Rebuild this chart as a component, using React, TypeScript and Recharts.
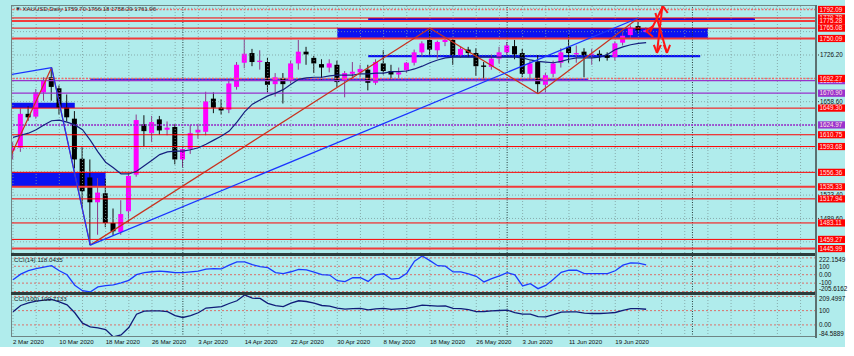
import React from 'react';
import { ComposedChart, Bar, Line, XAxis, YAxis, ReferenceLine, ReferenceArea } from 'recharts';

// daily XAUUSD candles, 2 Mar 2020 .. 25 Jun 2020 (index = bar number)
const opens = [
  1588, 1592, 1641, 1637, 1672, 1694, 1678, 1650, 1634, 1576,
  1549, 1513, 1526, 1483, 1470, 1500, 1553, 1626, 1613, 1633,
  1618, 1622, 1575, 1590, 1614, 1615, 1663, 1650, 1647, 1680,
  1715, 1729, 1716, 1716, 1684, 1693, 1690, 1714, 1731, 1722,
  1713, 1708, 1712, 1690, 1699, 1701, 1705, 1686, 1714, 1703,
  1698, 1704, 1715, 1730, 1748, 1733, 1745, 1748, 1726, 1734,
  1729, 1711, 1709, 1721, 1730, 1739, 1729, 1699, 1716, 1683,
  1699, 1715, 1738, 1727, 1731, 1726, 1728, 1726, 1723, 1744,
  1755, 1768, 1759.7,
];
const highs = [
  1600, 1649, 1652, 1677, 1694, 1708, 1682, 1669, 1645, 1594,
  1575, 1548, 1547, 1504, 1516, 1555, 1640, 1639, 1638, 1638,
  1630, 1626, 1592, 1625, 1626, 1673, 1672, 1662, 1690, 1716,
  1750, 1735, 1733, 1722, 1700, 1700, 1718, 1748, 1738, 1725,
  1720, 1720, 1718, 1703, 1716, 1712, 1712, 1720, 1733, 1712,
  1708, 1716, 1734, 1746, 1765, 1747, 1752, 1750, 1738, 1738,
  1736, 1716, 1727, 1738, 1745, 1748, 1735, 1718, 1726, 1700,
  1718, 1736, 1755, 1740, 1736, 1735, 1733, 1730, 1746, 1760,
  1769, 1779.78, 1766.18,
];
const lows = [
  1575, 1586, 1631, 1634, 1660, 1660, 1640, 1630, 1562, 1505,
  1451, 1466, 1477, 1465, 1466, 1483, 1550, 1593, 1600, 1611,
  1610, 1568, 1564, 1583, 1605, 1610, 1642, 1640, 1642, 1676,
  1707, 1710, 1705, 1672, 1666, 1656, 1685, 1705, 1712, 1700,
  1690, 1701, 1680, 1665, 1692, 1694, 1675, 1683, 1698, 1691,
  1692, 1700, 1711, 1724, 1726, 1721, 1739, 1712, 1722, 1723,
  1696, 1692, 1705, 1714, 1726, 1720, 1694, 1691, 1670, 1672,
  1694, 1708, 1715, 1715, 1694, 1712, 1717, 1718, 1718, 1740,
  1751, 1757, 1758.29,
];
const closes = [
  1592, 1641, 1636, 1672, 1690, 1680, 1650, 1636, 1575, 1529,
  1513, 1527, 1483, 1471, 1496, 1551, 1632, 1616, 1629, 1617,
  1621, 1575, 1590, 1613, 1618, 1659, 1650, 1646, 1685, 1712,
  1728, 1716, 1718, 1683, 1694, 1684, 1714, 1731, 1727, 1714,
  1708, 1714, 1687, 1700, 1702, 1706, 1686, 1716, 1703, 1698,
  1701, 1715, 1730, 1743, 1734, 1745, 1748, 1726, 1735, 1729,
  1710, 1709, 1721, 1730, 1740, 1727, 1699, 1714, 1684, 1697,
  1714, 1730, 1729, 1729, 1726, 1728, 1726, 1722, 1743, 1754,
  1766, 1762, 1761.96,
];
const maValues = [
  1607, 1610, 1613, 1618, 1625, 1631, 1632, 1629, 1625, 1618,
  1603, 1586, 1571, 1563, 1554, 1554, 1558, 1566, 1574, 1582,
  1586, 1587, 1587, 1589, 1592, 1597, 1603, 1609, 1616, 1629,
  1644, 1655, 1661, 1667, 1671, 1676, 1684, 1691, 1693, 1694,
  1694, 1696, 1697, 1697, 1697, 1699, 1699, 1700, 1700, 1702,
  1702, 1703, 1706, 1710, 1715, 1719, 1722, 1723, 1723, 1723,
  1723, 1723, 1723, 1723, 1723, 1723, 1722, 1719, 1717, 1716,
  1715, 1717, 1720, 1722, 1722, 1722, 1723, 1727, 1734, 1738,
  1741, 1743, 1744,
];
const cci14 = [
  -59, 7, 47, 71, 89, 107, 47, -1, -125, -190,
  -205.6162, -146, -130, -120, -98, -67, 1, 24, 35, 42,
  35, 25, 25, 34, 43, 67, 72, 69, 113, 152,
  153, 119, 96, 83, 25, 13, 35, 63, 58, 31,
  0, -4, -71, -83, -36, -35, -80, -1, 11, -53,
  -43, 18, 161, 222.1549, 167, 107, 101, 33, 33, 11,
  -19, -86, -46, -13, 25, -1, -134, -107, -166, -128,
  -55, 29, 55, 53, 13, 13, 13, 13, 47, 113,
  141, 137, 118.0435,
];
const cci100 = [
  92, 136, 155, 167, 174, 178, 161, 141, 85, 12,
  -14, -21, -32, -84.5889, -70, -18, 75, 97, 99, 99,
  93, 65, 52, 65, 85, 118, 123, 128, 150, 169,
  209.4997, 187, 186, 151, 135, 128, 152, 169, 164, 152,
  136, 132, 118, 111, 114, 116, 106, 113, 116, 109,
  112, 116, 127, 139, 135, 132, 134, 116, 114, 107,
  93, 94, 99, 101, 104, 86, 75, 75, 58, 56,
  72, 90, 92, 92, 83, 80, 80, 83, 87, 102,
  114, 114, 109.7133,
];

const dateLabels = [
  '2 Mar 2020', '10 Mar 2020', '18 Mar 2020', '26 Mar 2020', '3 Apr 2020', '14 Apr 2020', '22 Apr 2020',
  '30 Apr 2020', '8 May 2020', '18 May 2020', '26 May 2020', '3 Jun 2020', '11 Jun 2020', '19 Jun 2020',
];
const dateTickIdx = [0, 6, 12, 18, 24, 30, 36, 42, 48, 54, 60, 66, 72, 78];

// horizontal levels drawn on the price panel
const redLevels = [1792.09, 1779.78, 1775.28, 1765.08, 1750.09, 1692.27, 1649.3, 1610.75, 1593.68, 1556.36, 1535.33, 1517.94, 1483.11, 1459.27, 1445.99];
const purpleLevels = [1689.02, 1670.9, 1624.97];
const gridLabelLevels = [1726.2, 1658.6, 1523.4, 1489.6];
const gridLevels = [1793.8, 1760.0, 1726.2, 1692.4, 1658.6, 1624.8, 1591.0, 1557.2, 1523.4, 1489.6, 1455.8];

// zigzag pivots (bar index, price)
const redZigIdx = [-1, 5, 10, 54, 68, 81];
const redZigPrice = [1563, 1708, 1451, 1765, 1670, 1779.78];
const blueZigIdx = [-5, 5, 10, 81];
const blueZigPrice = [1689, 1708, 1451, 1779.78];

// supply / demand boxes: [fromBar, toBar, lowPrice, highPrice]
const zones = [
  [46, 96.1, 1775.28, 1779.78],
  [42, 90, 1750.09, 1765.08],
  [46, 89, 1723.0, 1726.2],
  [10, 74.5, 1689.02, 1692.27],
  [-0.13, 8, 1649.3, 1657.2],
  [-0.13, 12, 1535.33, 1556.36],
];

// hand drawn red arrows near the last bar
const arrowSegs = [
  [82.5, 1759.5, 84.2, 1796.5],
  [83.2, 1787, 84.7, 1729.1],
  [84.1, 1796.5, 83.4, 1729.1],
  [83.4, 1729.1, 83.0, 1740.7],
  [83.4, 1729.1, 83.9, 1740.7],
  [84.7, 1729.1, 84.3, 1740.7],
  [84.7, 1729.1, 85.1, 1740.7],
  [84.2, 1796.5, 83.7, 1786],
  [84.2, 1796.5, 84.8, 1787],
  [82.0, 1760.9, 82.9, 1768.2],
  [82.0, 1760.9, 82.9, 1752.3],
];

const cci14Levels = [200, 100, 0, -100, -200];
const cci14Ticks = [222.1549, 100, 0, -100, -205.6162];
const cci100Levels = [200, 100, 0];
const cci100Ticks = [209.4997, 100, 0, -84.5889];

const bars = opens.map((o, i) => ({
  i, o, h: highs[i], l: lows[i], c: closes[i],
  ma: maValues[i], cci14: cci14[i], cci100: cci100[i],
}));

const W = 854;
const LEFT = 12;
const AXIS_W = 38;
const X_DOMAIN: [number, number] = [-0.13, 104];
const FONT = '"Liberation Sans", Arial, sans-serif';
const BG = '#b0ecec';
const vGrid = Array.from({ length: 35 }, (_, k) => k * 3);
const vDark = [22, 64, 88];

const thickLevels = [1775.28, 1750.09, 1535.33, 1445.99];
const dottedLevels = [1792.09, 1692.27];

const Candle = (props: any) => {
  const { x, y, width, height, payload } = props;
  if (!payload || height == null || isNaN(y)) return null;
  const cx = x + width / 2;
  const top = Math.min(y, y + height);
  const h = Math.abs(height);
  const range = payload.h - payload.l || 1;
  const py = (v: number) => top + ((payload.h - v) / range) * h;
  const bull = payload.c >= payload.o;
  const yo = py(payload.o);
  const yc = py(payload.c);
  return (
    <g>
      <line x1={cx} x2={cx} y1={top} y2={top + h} stroke={bull ? '#8a3a8a' : '#111'} strokeWidth={1} />
      <rect x={cx - 2.5} y={Math.min(yo, yc)} width={5} height={Math.max(1, Math.abs(yc - yo))} fill={bull ? '#ff00ff' : '#000'} />
    </g>
  );
};

const PriceTick = (props: any) => {
  const { x, y, payload } = props;
  const v = payload.value;
  const txt = v.toFixed(2);
  if (redLevels.includes(v) || purpleLevels.includes(v)) {
    const fill = redLevels.includes(v) ? '#ff0000' : '#9a32cd';
    return (
      <g>
        <rect x={x + 2} y={y - 3.6} width={27} height={7.2} fill={fill} />
        <text x={x + 3.5} y={y + 2.3} fontSize={6.3} fontFamily={FONT} fill="#ffe4e4">{txt}</text>
      </g>
    );
  }
  return (
    <g>
      <line x1={x} x2={x + 3} y1={y} y2={y} stroke="#333" strokeDasharray="1 1" />
      <text x={x + 4} y={y + 2.3} fontSize={6.3} fontFamily={FONT} fill="#111">{txt}</text>
    </g>
  );
};

// max / min labels sit just inside the panel edges, as in the terminal
const makeCciTick = (labels: Record<string, string>, maxV: number, minV: number) => (props: any) => {
  const { x, y, payload } = props;
  const v = payload.value;
  const txt = labels[String(v)] ?? String(v);
  const dy = v === maxV ? 3.2 : v === minV ? -3.2 : 0;
  return (
    <g>
      <text x={x + 3} y={y + 2.3 + dy} fontSize={6.3} fontFamily={FONT} fill="#111">{txt}</text>
    </g>
  );
};

const DateTick = (props: any) => {
  const { x, y, payload } = props;
  const k = dateTickIdx.indexOf(payload.value);
  return (
    <text x={x} y={y + 6.5} fontSize={6.1} fontFamily={FONT} fill="#111">{dateLabels[k]}</text>
  );
};

const verticalGrid = (prefix: string) => [
  ...vGrid.map((v) => (
    <ReferenceLine key={`${prefix}g${v}`} x={v} stroke="#7e9c9c" strokeDasharray="1 2" strokeWidth={0.8} />
  )),
  ...vDark.map((v) => (
    <ReferenceLine key={`${prefix}d${v}`} x={v} stroke="#1a2a2a" strokeDasharray="1 1.5" strokeWidth={0.9} />
  )),
];

const zigSegs = (idx: number[], price: number[], color: string, key: string) =>
  idx.slice(1).map((v, k) => (
    <ReferenceLine
      key={`${key}${k}`}
      segment={[{ x: idx[k], y: price[k] }, { x: v, y: price[k + 1] }]}
      stroke={color}
      strokeWidth={1.2}
      ifOverflow="hidden"
    />
  ));

export default function App() {
  const cci14Tick = makeCciTick(
    { '222.1549': '222.1549', '100': '100', '0': '0.00', '-100': '-100', '-205.6162': '-205.6162' },
    222.1549,
    -205.6162,
  );
  const cci100Tick = makeCciTick(
    { '209.4997': '209.4997', '100': '100', '0': '0.00', '-84.5889': '-84.5889' },
    209.4997,
    -84.5889,
  );

  return (
    <div style={{ position: 'absolute', left: 0, top: 0, width: W, height: 356, background: '#fff', overflow: 'hidden', fontFamily: FONT }}>
      <div style={{ position: 'absolute', left: 0, top: 0, width: 845, height: 347, background: BG }} />

      {/* price panel */}
      <div style={{ position: 'absolute', left: 0, top: 0 }}>
        <ComposedChart width={W} height={253} data={bars} margin={{ top: 6, right: 0, bottom: 0, left: LEFT }}>
          <XAxis type="number" dataKey="i" domain={X_DOMAIN} hide allowDataOverflow />
          <YAxis
            orientation="right"
            type="number"
            width={AXIS_W}
            domain={[1439.6, 1797.1]}
            allowDataOverflow
            ticks={[...gridLabelLevels, ...purpleLevels, ...redLevels]}
            interval={0}
            tick={PriceTick}
            axisLine={false}
            tickLine={false}
            tickSize={0}
            tickMargin={0}
          />
          {verticalGrid('p')}
          {gridLevels.map((v) => (
            <ReferenceLine key={`hg${v}`} y={v} stroke="#7e9c9c" strokeDasharray="1 2" strokeWidth={0.8} />
          ))}
          {zones.map((z, k) => (
            <ReferenceArea
              key={`z${k}`}
              x1={z[0]}
              x2={z[1]}
              y1={z[2]}
              y2={z[3]}
              fill={k === 3 ? '#3a22e0' : '#0a12f2'}
              fillOpacity={1}
              stroke="none"
              ifOverflow="hidden"
            />
          ))}
          {redLevels.map((v) => (
            <ReferenceLine
              key={`r${v}`}
              y={v}
              stroke={dottedLevels.includes(v) ? '#f06a6a' : thickLevels.includes(v) ? '#f23a3a' : '#ff0000'}
              strokeWidth={thickLevels.includes(v) ? 2 : dottedLevels.includes(v) ? 1.6 : 1}
              strokeDasharray={dottedLevels.includes(v) ? '2 1.5' : undefined}
            />
          ))}
          {purpleLevels.map((v) => (
            <ReferenceLine
              key={`pu${v}`}
              y={v}
              stroke="#9932cc"
              strokeWidth={v === 1624.97 ? 1.4 : 1.2}
              strokeDasharray={v === 1624.97 ? '2 1' : undefined}
            />
          ))}
          <Line dataKey="ma" stroke="#16207e" strokeWidth={1.2} dot={false} isAnimationActive={false} />
          <Bar dataKey={(d: any) => [d.l, d.h]} barSize={5} shape={Candle} isAnimationActive={false} />
          {zigSegs(redZigIdx, redZigPrice, '#c8321e', 'rz')}
          {zigSegs(blueZigIdx, blueZigPrice, '#1a34ff', 'bz')}
          {arrowSegs.map((s, k) => (
            <ReferenceLine
              key={`a${k}`}
              segment={[{ x: s[0], y: s[1] }, { x: s[2], y: s[3] }]}
              stroke="#ff1414"
              strokeWidth={2}
              ifOverflow="hidden"
            />
          ))}
        </ComposedChart>
      </div>

      {/* CCI(14) panel */}
      <div style={{ position: 'absolute', left: 0, top: 256 }}>
        <ComposedChart width={W} height={36} data={bars} margin={{ top: 0, right: 0, bottom: 0, left: LEFT }}>
          <XAxis type="number" dataKey="i" domain={X_DOMAIN} hide allowDataOverflow />
          <YAxis
            orientation="right"
            type="number"
            width={AXIS_W}
            domain={[-205.6162, 222.1549]}
            allowDataOverflow
            ticks={cci14Ticks}
            interval={0}
            tick={cci14Tick}
            axisLine={false}
            tickLine={false}
            tickSize={0}
            tickMargin={0}
          />
          {verticalGrid('c')}
          {cci14Levels.map((v) => (
            <ReferenceLine key={`l14${v}`} y={v} stroke="#e0605a" strokeDasharray="2 2" strokeWidth={0.9} />
          ))}
          <Line dataKey="cci14" stroke="#1c3cff" strokeWidth={1.3} dot={false} isAnimationActive={false} />
        </ComposedChart>
      </div>

      {/* CCI(100) panel + date axis */}
      <div style={{ position: 'absolute', left: 0, top: 295 }}>
        <ComposedChart width={W} height={54} data={bars} margin={{ top: 0, right: 0, bottom: 0, left: LEFT }}>
          <XAxis
            type="number"
            dataKey="i"
            domain={X_DOMAIN}
            allowDataOverflow
            ticks={dateTickIdx}
            interval={0}
            tick={DateTick}
            axisLine={false}
            tickLine={false}
            tickSize={0}
            tickMargin={0}
            height={12}
          />
          <YAxis
            orientation="right"
            type="number"
            width={AXIS_W}
            domain={[-84.5889, 209.4997]}
            allowDataOverflow
            ticks={cci100Ticks}
            interval={0}
            tick={cci100Tick}
            axisLine={false}
            tickLine={false}
            tickSize={0}
            tickMargin={0}
          />
          {verticalGrid('d')}
          {cci100Levels.map((v) => (
            <ReferenceLine key={`l100${v}`} y={v} stroke="#e0605a" strokeDasharray="2 2" strokeWidth={0.9} />
          ))}
          <Line dataKey="cci100" stroke="#101c78" strokeWidth={1.3} dot={false} isAnimationActive={false} />
        </ComposedChart>
      </div>

      {/* frame and panel separators */}
      <div style={{ position: 'absolute', left: 11, top: 5, width: 805, height: 332, border: '1px solid #6f8585', boxSizing: 'border-box', pointerEvents: 'none' }} />
      <div style={{ position: 'absolute', left: 11, top: 253, width: 806, height: 2.5, background: '#2c3c3c' }} />
      <div style={{ position: 'absolute', left: 11, top: 292, width: 806, height: 2.5, background: '#2c3c3c' }} />
      <div style={{ position: 'absolute', left: 815, top: 5, width: 1.5, height: 333, background: '#5c7070' }} />

      <svg width={W} height={356} style={{ position: 'absolute', left: 0, top: 0, pointerEvents: 'none' }}>
        <text x={15} y={11} fontSize={6} fontFamily={FONT} fill="#333">▼ XAUUSD,Daily  1759.70 1766.18 1758.29 1761.96</text>
        <text x={14} y={262} fontSize={6.2} fontFamily={FONT} fill="#222">CCI(14) 118.0435</text>
        <text x={14} y={301} fontSize={6.2} fontFamily={FONT} fill="#222">CCI(100) 109.7133</text>
      </svg>
    </div>
  );
}
